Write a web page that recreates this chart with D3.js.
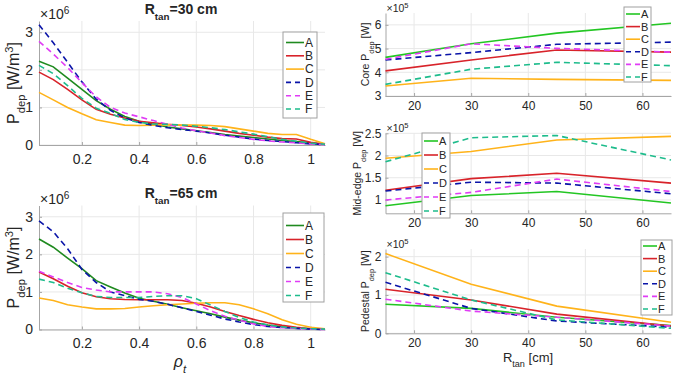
<!DOCTYPE html>
<html lang="en">
<head>
<meta charset="utf-8">
<title>P_dep profiles</title>
<script src="https://cdn.jsdelivr.net/npm/d3@7"></script>
<style>
  body { margin: 0; background: #fff; }
  text { font-family: "Liberation Sans", Arial, sans-serif; fill: #262626; }
</style>
</head>
<body>
<script>
// series names
var names = ["A", "B", "C", "D", "E", "F"];

// left panels: rho_t grid and P_dep (x10^6 W/m^3), one row per series A..F
var rho = [0.05, 0.1, 0.15, 0.2, 0.25, 0.3, 0.35, 0.4, 0.45, 0.5, 0.55, 0.6, 0.65, 0.7, 0.75, 0.8, 0.85, 0.9, 0.95, 1.0, 1.05];

var p30 = [
  [2.23, 2.08, 1.78, 1.48, 1.18, 0.95, 0.76, 0.63, 0.55, 0.48, 0.43, 0.38, 0.33, 0.28, 0.24, 0.20, 0.16, 0.12, 0.09, 0.05, 0.02],
  [1.94, 1.74, 1.48, 1.20, 0.95, 0.82, 0.72, 0.63, 0.59, 0.55, 0.52, 0.48, 0.43, 0.37, 0.31, 0.26, 0.21, 0.17, 0.16, 0.07, 0.02],
  [1.40, 1.20, 1.00, 0.83, 0.67, 0.60, 0.53, 0.52, 0.53, 0.54, 0.53, 0.53, 0.52, 0.49, 0.43, 0.37, 0.31, 0.28, 0.28, 0.15, 0.03],
  [3.20, 2.72, 2.20, 1.68, 1.22, 0.92, 0.72, 0.60, 0.52, 0.46, 0.41, 0.37, 0.32, 0.26, 0.21, 0.16, 0.12, 0.09, 0.06, 0.03, 0.01],
  [2.76, 2.42, 2.06, 1.66, 1.28, 1.00, 0.85, 0.75, 0.65, 0.55, 0.45, 0.38, 0.32, 0.25, 0.20, 0.15, 0.11, 0.08, 0.06, 0.03, 0.01],
  [2.12, 1.90, 1.58, 1.24, 0.98, 0.84, 0.68, 0.60, 0.56, 0.55, 0.53, 0.50, 0.46, 0.41, 0.35, 0.29, 0.22, 0.15, 0.10, 0.05, 0.02]
];

var p65 = [
  [2.41, 2.19, 1.90, 1.62, 1.30, 1.13, 0.97, 0.83, 0.75, 0.67, 0.58, 0.50, 0.42, 0.33, 0.25, 0.18, 0.12, 0.07, 0.04, 0.02, 0.01],
  [1.53, 1.35, 1.15, 0.98, 0.87, 0.82, 0.80, 0.79, 0.79, 0.79, 0.77, 0.70, 0.60, 0.48, 0.37, 0.27, 0.18, 0.11, 0.06, 0.02, 0.01],
  [0.84, 0.77, 0.66, 0.60, 0.55, 0.55, 0.56, 0.60, 0.63, 0.66, 0.68, 0.70, 0.71, 0.71, 0.66, 0.55, 0.42, 0.26, 0.14, 0.06, 0.02],
  [2.89, 2.60, 2.15, 1.60, 1.25, 1.00, 0.90, 0.80, 0.75, 0.67, 0.58, 0.48, 0.38, 0.28, 0.20, 0.13, 0.08, 0.05, 0.03, 0.01, 0.00],
  [1.55, 1.40, 1.25, 1.12, 1.05, 1.00, 1.00, 1.00, 1.00, 0.95, 0.85, 0.68, 0.50, 0.35, 0.25, 0.15, 0.08, 0.05, 0.03, 0.01, 0.00],
  [1.34, 1.25, 1.10, 0.98, 0.88, 0.85, 0.85, 0.85, 0.88, 0.90, 0.90, 0.82, 0.65, 0.48, 0.32, 0.20, 0.12, 0.07, 0.04, 0.02, 0.01]
];

// right panels: R_tan [cm] and deposited power (x10^5 W), rows A..F
var rtan = [15, 30, 45, 65];

var core = [
  [4.63, 5.20, 5.65, 6.07],
  [4.06, 4.52, 4.94, 4.85],
  [3.42, 3.75, 3.70, 3.66],
  [4.52, 4.83, 5.18, 5.27],
  [4.55, 5.20, 5.01, 4.85],
  [3.49, 4.13, 4.42, 4.28]
];

var midEdge = [
  [0.87, 1.10, 1.19, 0.93],
  [1.22, 1.48, 1.60, 1.38],
  [1.94, 2.09, 2.35, 2.43],
  [1.20, 1.40, 1.38, 1.14],
  [1.00, 1.17, 1.47, 1.19],
  [1.86, 2.40, 2.45, 1.90]
];

var pedestal = [
  [0.76, 0.65, 0.42, 0.20],
  [1.15, 0.87, 0.50, 0.19],
  [2.08, 1.28, 0.71, 0.29],
  [1.33, 0.65, 0.32, 0.16],
  [0.89, 0.58, 0.42, 0.19],
  [1.58, 0.87, 0.35, 0.13]
];

// tick labels
var rhoTicks = [0.2, 0.4, 0.6, 0.8, 1];
var pTicks = [0, 1, 2, 3];
var rtanTicks = [20, 30, 40, 50, 60];
var coreTicks = [3, 4, 5, 6];
var midTicks = [1, 1.5, 2, 2.5];
var pedTicks = [0, 1, 2];

var w = 673, h = 375;
var leftColors = ["#1f8a1f", "#d8232a", "#ffb31a", "#0a14a8", "#e03cf5", "#1ebc8c"];
var rightColors = ["#23c623", "#d8232a", "#ffb31a", "#0a14a8", "#e03cf5", "#1ebc8c"];
var dashed = [false, false, false, true, true, true];

var svg = d3.select("body").append("svg")
  .attr("width", w)
  .attr("height", h);

// writes "base" + subscript + rest (+ optional superscript) into a text element
function subText(t, base, sub, rest, sup, after) {
  t.append("tspan").text(base);
  t.append("tspan").attr("baseline-shift", "sub").attr("font-size", "70%").text(sub);
  t.append("tspan").text(rest);
  if (sup) {
    t.append("tspan").attr("baseline-shift", "super").attr("font-size", "70%").text(sup);
    t.append("tspan").text(after);
  }
}

function panel(o) {
  var x = d3.scaleLinear().domain(o.xDom).range([o.x0, o.x1]);
  var y = d3.scaleLinear().domain(o.yDom).range([o.y1, o.y0]);
  var g = svg.append("g");

  // grid
  g.selectAll(".gx").data(o.xTicks).enter().append("line")
    .attr("x1", function(d) { return x(d); }).attr("x2", function(d) { return x(d); })
    .attr("y1", o.y0).attr("y2", o.y1)
    .attr("stroke", "#e8e8e8");
  g.selectAll(".gy").data(o.yTicks).enter().append("line")
    .attr("x1", o.x0).attr("x2", o.x1)
    .attr("y1", function(d) { return y(d); }).attr("y2", function(d) { return y(d); })
    .attr("stroke", "#e8e8e8");

  // axes
  var ax = g.append("g").attr("transform", "translate(0," + o.y1 + ")")
    .call(d3.axisBottom(x).tickValues(o.xTicks).tickFormat(function(d) { return String(d); })
      .tickSizeInner(-3).tickSizeOuter(0).tickPadding(o.xPad));
  var ay = g.append("g").attr("transform", "translate(" + o.x0 + ",0)")
    .call(d3.axisLeft(y).tickValues(o.yTicks).tickFormat(function(d) { return String(d); })
      .tickSizeInner(-3).tickSizeOuter(0).tickPadding(o.yPad));
  [ax, ay].forEach(function(a) {
    a.select(".domain").attr("stroke", "#a6a6a6");
    a.selectAll(".tick line").attr("stroke", "#a6a6a6");
    a.selectAll(".tick text").attr("font-size", o.tickFont + "px").attr("fill", "#262626")
      .attr("font-family", "Liberation Sans, Arial, sans-serif");
  });

  // data lines
  var line = d3.line()
    .x(function(d, i) { return x(o.xs[i]); })
    .y(function(d) { return y(d); });
  o.data.forEach(function(row, k) {
    g.append("path")
      .attr("d", line(row))
      .attr("fill", "none")
      .attr("stroke", o.colors[k])
      .attr("stroke-width", 1.6)
      .attr("stroke-dasharray", dashed[k] ? "6,4" : null);
  });

  // exponent
  var ex = g.append("text").attr("x", o.x0 + 1).attr("y", o.y0 - o.expGap)
    .attr("font-size", o.expFont + "px").attr("fill", "#404040");
  ex.append("tspan").text("\u00d710");
  ex.append("tspan").attr("baseline-shift", "super").attr("font-size", "72%").text(o.exp);

  // y label
  var yl = g.append("text")
    .attr("transform", "translate(" + o.ylX + "," + ((o.y0 + o.y1) / 2) + ") rotate(-90)")
    .attr("text-anchor", "middle")
    .attr("font-size", o.ylFont + "px");
  o.ylabel(yl);

  // legend
  var L = o.legend;
  g.append("rect")
    .attr("x", L.x).attr("y", L.y).attr("width", L.w).attr("height", L.h)
    .attr("fill", "#fff").attr("stroke", "#a0a0a0").attr("stroke-width", 1);
  names.forEach(function(n, k) {
    var yy = L.y + L.first + k * L.step;
    g.append("line")
      .attr("x1", L.x + L.l0).attr("x2", L.x + L.l1)
      .attr("y1", yy).attr("y2", yy)
      .attr("stroke", o.colors[k]).attr("stroke-width", 1.6)
      .attr("stroke-dasharray", dashed[k] ? "5,4" : null);
    g.append("text")
      .attr("x", L.x + L.l1 + 1).attr("y", yy + L.font * 0.36)
      .attr("font-size", L.font + "px")
      .text(n);
  });
  return { x: x, y: y };
}

function leftLabel(t) { subText(t, "P", "dep", " [W/m", "3", "]"); }

// R_tan = 30 cm
panel({
  xs: rho, data: p30, xDom: [0.05, 1.05], yDom: [0, 3.3],
  x0: 39, x1: 325, y0: 21, y1: 145,
  xTicks: rhoTicks, yTicks: pTicks, xPad: 9, yPad: 6, tickFont: 14,
  colors: leftColors, exp: "6", expFont: 14, expGap: 2,
  ylX: 19, ylFont: 16, ylabel: leftLabel,
  legend: { x: 283, y: 32, w: 34, h: 86, first: 10.5, step: 13.3, l0: 3, l1: 21, font: 12 }
});

// R_tan = 65 cm
panel({
  xs: rho, data: p65, xDom: [0.05, 1.05], yDom: [0, 3.3],
  x0: 39, x1: 325, y0: 205.5, y1: 329.5,
  xTicks: rhoTicks, yTicks: pTicks, xPad: 9, yPad: 6, tickFont: 14,
  colors: leftColors, exp: "6", expFont: 14, expGap: 2,
  ylX: 19, ylFont: 16, ylabel: leftLabel,
  legend: { x: 283, y: 213, w: 41, h: 89, first: 12.5, step: 14, l0: 3, l1: 21, font: 12 }
});

// core
panel({
  xs: rtan, data: core, xDom: [15, 65], yDom: [3, 6.5],
  x0: 385.5, x1: 671, y0: 13, y1: 96,
  xTicks: rtanTicks, yTicks: coreTicks, xPad: 5, yPad: 4, tickFont: 12,
  colors: rightColors, exp: "5", expFont: 10.5, expGap: 1,
  ylX: 369, ylFont: 10.5, ylabel: function(t) { subText(t, "Core P", "dep", " [W]"); },
  legend: { x: 624, y: 7, w: 27, h: 75, first: 7, step: 12.6, l0: 2, l1: 16, font: 11 }
});

// mid-edge
panel({
  xs: rtan, data: midEdge, xDom: [15, 65], yDom: [0.7, 2.5],
  x0: 385.5, x1: 671, y0: 133.3, y1: 213.3,
  xTicks: rtanTicks, yTicks: midTicks, xPad: 5, yPad: 4, tickFont: 12,
  colors: rightColors, exp: "5", expFont: 10.5, expGap: 1,
  ylX: 361, ylFont: 10.5, ylabel: function(t) { subText(t, "Mid-edge P", "dep", " [W]"); },
  legend: { x: 422, y: 133, w: 28, h: 85, first: 8, step: 14, l0: 2, l1: 16, font: 11 }
});

// pedestal
panel({
  xs: rtan, data: pedestal, xDom: [15, 65], yDom: [0, 2.2],
  x0: 385.5, x1: 671, y0: 249, y1: 333.3,
  xTicks: rtanTicks, yTicks: pedTicks, xPad: 5, yPad: 4, tickFont: 12,
  colors: rightColors, exp: "5", expFont: 10.5, expGap: 1,
  ylX: 369, ylFont: 10.5, ylabel: function(t) { subText(t, "Pedestal P", "dep", " [W]"); },
  legend: { x: 641, y: 240, w: 31, h: 75, first: 6, step: 12.6, l0: 2, l1: 16, font: 11 }
});

// titles and x labels
var t1 = svg.append("text").attr("x", 181).attr("y", 14).attr("text-anchor", "middle")
  .attr("font-size", "14px").attr("font-weight", "bold");
subText(t1, "R", "tan", "=30 cm");
var t2 = svg.append("text").attr("x", 181).attr("y", 198).attr("text-anchor", "middle")
  .attr("font-size", "14px").attr("font-weight", "bold");
subText(t2, "R", "tan", "=65 cm");

var xl1 = svg.append("text").attr("x", 180).attr("y", 367).attr("text-anchor", "middle")
  .attr("font-size", "16px").attr("font-style", "italic");
subText(xl1, "\u03c1", "t", "");

var xl2 = svg.append("text").attr("x", 528).attr("y", 362).attr("text-anchor", "middle")
  .attr("font-size", "13px");
subText(xl2, "R", "tan", " [cm]");
</script>
</body>
</html>
